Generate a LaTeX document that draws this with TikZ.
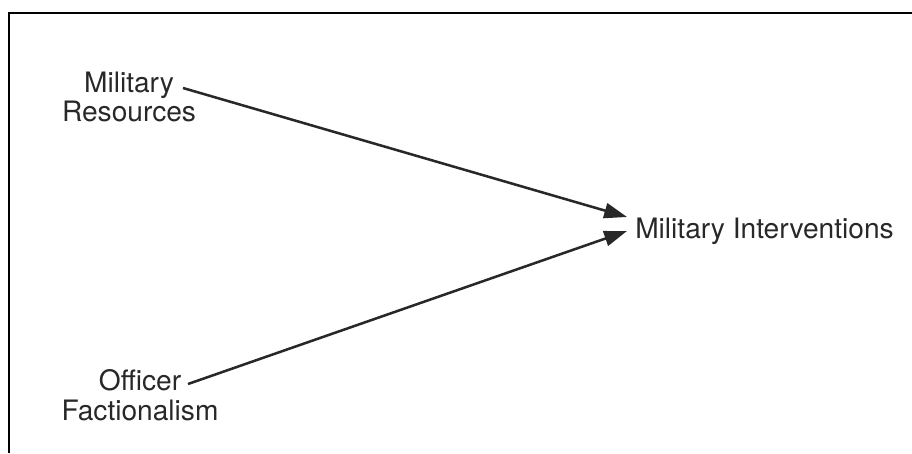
\documentclass[tikz,border=0pt]{standalone}
\usepackage{fontspec}
\setmainfont{TeX Gyre Heros}
\usetikzlibrary{arrows.meta}
\usetikzlibrary{positioning}
\usetikzlibrary{calc}
\definecolor{ink}{RGB}{40,40,40}

\begin{document}
\begin{tikzpicture}[x=0.025cm, y=-0.025cm,
	every node/.style={inner sep=0pt, text=ink, font=\fontsize{20}{21}\selectfont},
	factor/.style={align=center},
	link/.style={draw=ink, line width=1.8pt, -{Triangle[length=0.57cm, width=0.38cm]}}]
	\useasboundingbox (0,0) rectangle (912,453);
				% frame
	\draw[line width=2pt, black] (9,453) -- (9,13) -- (912,13);
				% causes
	\node[factor] (mr) at (129,97) {Military\\Resources};
	\node[factor] (of) at (140,395) {Officer\\Factionalism};
				% outcome
	\node[anchor=base west] (mi) at (635,238) {Military Interventions};
	\coordinate (mr-out) at (183,88);
	\coordinate (of-out) at (188,384);
	\draw[link] (mr-out) -- ([shift={(-8,-21)}]mi.base west);
	\draw[link] (of-out) -- ([shift={(-8,-7)}]mi.base west);
\end{tikzpicture}
\end{document}
